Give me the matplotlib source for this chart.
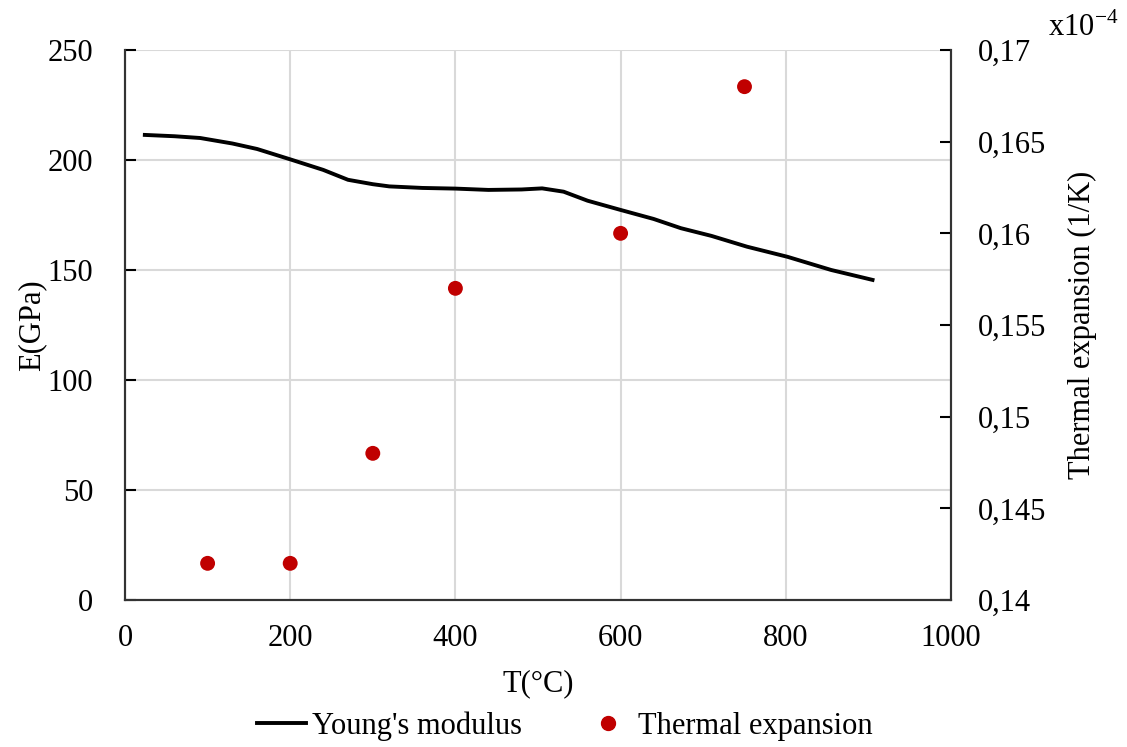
import matplotlib
matplotlib.use("Agg")
import matplotlib.pyplot as plt
from matplotlib.lines import Line2D

plt.rcParams['font.family'] = ['Liberation Serif', 'DejaVu Serif']

# Young's modulus curve (T in °C, E in GPa)
T_E = [24, 60, 91, 130, 160, 200, 240, 270, 300, 320, 360, 400, 440, 480, 505, 531, 560, 600, 640, 673, 710, 753, 802, 855, 905]
E_vals = [211.4, 210.8, 210.0, 207.5, 205.0, 200.3, 195.5, 191.0, 189.0, 188.0, 187.3, 187.0, 186.4, 186.6, 187.1, 185.6, 181.5, 177.3, 173.2, 169.0, 165.5, 160.6, 156.0, 150.0, 145.5]

# Thermal expansion points (x1e-4 1/K)
T_alpha = [100, 200, 300, 400, 600, 750]
alpha_vals = [0.142, 0.142, 0.148, 0.157, 0.160, 0.168]

x_ticks = [0, 200, 400, 600, 800, 1000]
y_ticks = [0, 50, 100, 150, 200, 250]
y2_ticks = [0.14, 0.145, 0.15, 0.155, 0.16, 0.165, 0.17]
y2_labels = ['0,14', '0,145', '0,15', '0,155', '0,16', '0,165', '0,17']

fig = plt.figure(figsize=(11.27, 7.47), dpi=100)
ax = fig.add_axes([125/1127, 1-600/747, 826/1127, 550/747])
ax2 = ax.twinx()

fs = 22
ax.plot(T_E, E_vals, color='black', lw=2.8, zorder=3)
ax2.scatter(T_alpha, alpha_vals, color='#C00000', s=115, zorder=4, edgecolors='none')

ax.set_xlim(0, 1000)
ax.set_ylim(0, 250)
ax2.set_ylim(0.14, 0.17)
ax.set_xticks(x_ticks)
ax.set_yticks(y_ticks)
ax2.set_yticks(y2_ticks)
ax2.set_yticklabels(y2_labels)

ax.grid(True, color='#d9d9d9', lw=1.5, zorder=0)
ax.set_axisbelow(True)

for a in (ax, ax2):
    a.spines['top'].set_visible(False)
    for s in a.spines.values():
        s.set_linewidth(1.5)
        s.set_color('#333333')

ax.tick_params(axis='x', length=0, labelsize=fs, pad=17)
ax.tick_params(axis='y', direction='in', length=8, width=1.5, labelsize=fs, pad=23)
ax2.tick_params(axis='y', direction='in', length=8, width=1.5, labelsize=fs, pad=19)

ax.set_xlabel('T(°C)', fontsize=fs, labelpad=12)
ax.set_ylabel('E(GPa)', fontsize=fs, labelpad=1)
ax2.set_ylabel('Thermal expansion (1/K)', fontsize=fs, labelpad=16)

fig.text(1048/1127, 1-28/747, r'x10$^{\mathregular{-4}}$', fontsize=fs, ha='left', va='center')

handles = [Line2D([0], [0], color='black', lw=2.8),
           Line2D([0], [0], marker='o', color='#C00000', ls='none', markersize=10)]
fig.legend(handles, ["Young's modulus", 'Thermal expansion'], loc='center',
           bbox_to_anchor=(565/1127, 1-726/747), ncol=2, frameon=False,
           fontsize=fs, handlelength=1.6, columnspacing=2.0, handletextpad=0.2)

fig.savefig('out.png', dpi=100)
